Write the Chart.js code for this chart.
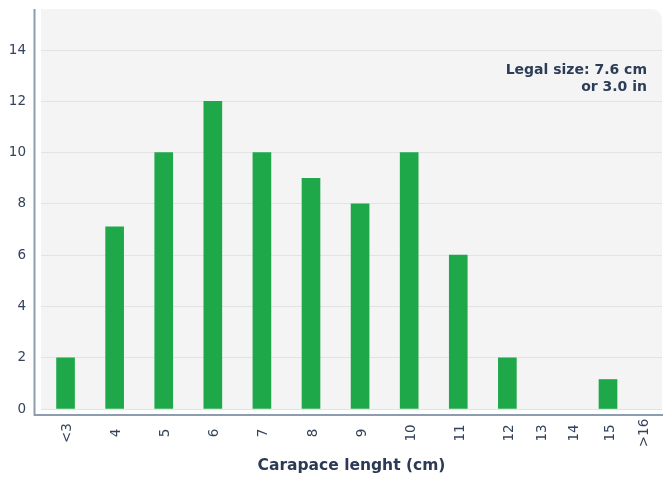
<!DOCTYPE html>
<html>
<head>
<meta charset="utf-8">
<script src="https://cdn.jsdelivr.net/npm/chart.js@4"></script>
<style>
  html, body { margin: 0; padding: 0; background: #ffffff; }
  #wrap { width: 663px; height: 481px; position: relative; }
</style>
</head>
<body>
<div id="wrap"><canvas id="c" width="663" height="481"></canvas></div>
<script>
// ---- data ----
const xLabels = ['<3', '4', '5', '6', '7', '8', '9', '10', '11', '12', '13', '14', '15', '>16'];
// positions of each class along the (non-uniform) x axis, in class units
const xPositions = [0, 1, 2, 3, 4, 5, 6, 7, 8, 9, 9.67, 10.33, 11.05, 11.75];
const counts = [2, 7.1, 10, 12, 10, 9, 8, 10, 6, 2, 0, 0, 1.15, 0];
const yTicks = [0, 2, 4, 6, 8, 10, 12, 14];
const xTitle = 'Carapace lenght (cm)';
const noteLines = ['Legal size: 7.6 cm', 'or 3.0 in'];

const TEXT = '#34435b';
const FONT = "'DejaVu Sans', 'Open Sans', sans-serif";

const decor = {
  id: 'decor',
  beforeDraw(chart) {
    const { ctx, chartArea: a } = chart;
    ctx.save();
    ctx.fillStyle = '#ffffff';
    ctx.fillRect(0, 0, chart.width, chart.height);
    // panel
    const r = 12;
    ctx.fillStyle = '#f4f4f4';
    ctx.beginPath();
    ctx.moveTo(a.left, a.top);
    ctx.lineTo(a.right - r, a.top);
    ctx.quadraticCurveTo(a.right, a.top, a.right, a.top + r);
    ctx.lineTo(a.right, a.bottom);
    ctx.lineTo(a.left, a.bottom);
    ctx.closePath();
    ctx.fill();
    // axis lines
    ctx.strokeStyle = '#8e9caf';
    ctx.lineWidth = 2;
    ctx.beginPath();
    ctx.moveTo(a.left - 6.5, a.top);
    ctx.lineTo(a.left - 6.5, a.bottom + 6);
    ctx.lineTo(chart.width, a.bottom + 6);
    ctx.stroke();
    ctx.restore();
  },
  afterDraw(chart) {
    const { ctx, chartArea: a } = chart;
    const xs = chart.scales.x;
    ctx.save();
    ctx.fillStyle = TEXT;
    ctx.font = '13.5px ' + FONT;
    ctx.textAlign = 'center';
    ctx.textBaseline = 'middle';
    xLabels.forEach((lab, i) => {
      const px = xs.getPixelForValue(xPositions[i]);
      ctx.save();
      ctx.translate(px + 2, a.bottom + 24);
      ctx.rotate(-Math.PI / 2);
      ctx.fillText(lab, 0, 0);
      ctx.restore();
    });
    // note
    ctx.fillStyle = '#2c3d57';
    ctx.font = 'bold 14px ' + FONT;
    ctx.textAlign = 'right';
    ctx.fillText(noteLines[0], a.right - 15, 70);
    ctx.fillText(noteLines[1], a.right - 15, 87);
    ctx.restore();
  }
};

new Chart(document.getElementById('c'), {
  type: 'bar',
  data: {
    datasets: [{
      data: xPositions.map((x, i) => ({ x: x, y: counts[i] })),
      backgroundColor: (c) => (c.raw && c.raw.y > 0 ? '#1fa84a' : 'rgba(0,0,0,0)'),
      borderWidth: 0,
      barThickness: 18
    }]
  },
  options: {
    responsive: false,
    animation: false,
    layout: { padding: { top: 9, right: 1, left: 0, bottom: 0 } },
    plugins: { legend: { display: false }, tooltip: { enabled: false } },
    scales: {
      x: {
        type: 'linear',
        offset: false,
        min: -0.5,
        max: 12.15,
        grid: { display: false, offset: false },
        border: { display: false },
        ticks: { display: false },
        title: {
          display: true,
          text: xTitle,
          color: '#2b3a55',
          font: { family: FONT, size: 15.5, weight: 'bold' },
          padding: { top: 0, bottom: 6 }
        },
        afterFit(s) { s.height = 72; s.paddingLeft = 0; s.paddingRight = 0; }
      },
      y: {
        min: 0,
        max: 15.6,
        afterBuildTicks(s) { s.ticks = yTicks.map(v => ({ value: v })); },
        ticks: {
          includeBounds: false,
          padding: 15,
          color: TEXT,
          font: { family: FONT, size: 13.5 }
        },
        grid: { color: '#e3e3e3', drawTicks: false, lineWidth: 1 },
        border: { display: false },
        afterFit(s) { s.width = 41; s.paddingTop = 0; s.paddingBottom = 0; }
      }
    }
  },
  plugins: [decor]
});
</script>
</body>
</html>
